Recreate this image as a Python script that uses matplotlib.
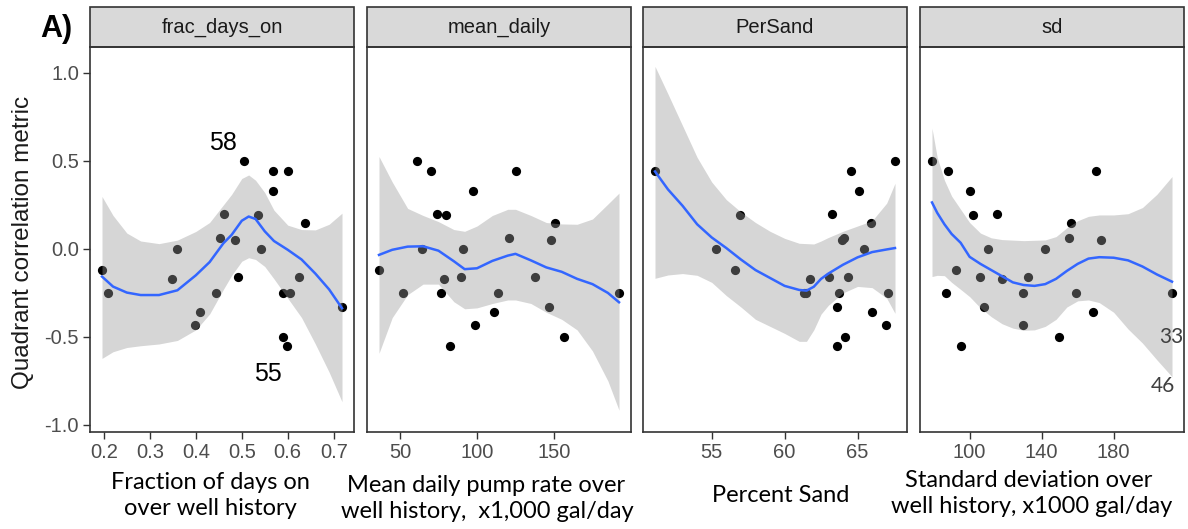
import numpy as np
import matplotlib
matplotlib.use("Agg")
import matplotlib.pyplot as plt
from matplotlib.patches import Rectangle

# Quadrant correlation metric for each well against four well descriptors
frac_days_on = [0.196, 0.208, 0.349, 0.359, 0.398, 0.409, 0.445, 0.453, 0.461, 0.486, 0.491, 0.504,
                0.535, 0.542, 0.567, 0.567, 0.590, 0.590, 0.598, 0.601, 0.605, 0.624, 0.638, 0.718]
frac_days_qc = [-0.12, -0.25, -0.17, 0.00, -0.43, -0.36, -0.25, 0.06, 0.20, 0.05, -0.16, 0.50,
                0.19, 0.00, 0.44, 0.33, -0.25, -0.50, -0.55, 0.44, -0.25, -0.16, 0.15, -0.33]

mean_daily = [36.4, 52.2, 60.8, 64.5, 70.1, 74.2, 76.6, 78.8, 80.1, 82.3, 89.8, 90.9,
              97.6, 98.9, 111.3, 113.4, 120.8, 125.5, 137.9, 146.5, 147.8, 150.9, 156.5, 192.2]
mean_daily_qc = [-0.12, -0.25, 0.50, 0.00, 0.44, 0.20, -0.25, -0.17, 0.19, -0.55, -0.16, 0.00,
                 0.33, -0.43, -0.36, -0.25, 0.06, 0.44, -0.16, -0.33, 0.05, 0.15, -0.50, -0.25]

per_sand = [51.11, 55.30, 56.57, 56.95, 61.30, 61.45, 61.75, 63.07, 63.25, 63.59, 63.59, 63.73,
            63.95, 64.05, 64.16, 64.32, 64.52, 65.11, 65.43, 65.93, 66.02, 66.98, 67.09, 67.57]
per_sand_qc = [0.44, 0.00, -0.12, 0.19, -0.25, -0.25, -0.17, -0.16, 0.20, -0.33, -0.55, -0.25,
               0.05, 0.06, -0.50, -0.16, 0.44, 0.33, 0.00, 0.15, -0.36, -0.43, -0.25, 0.50]

sd_pump = [79.1, 86.7, 87.8, 92.6, 95.2, 100.0, 102.0, 105.6, 107.8, 110.4, 115.2, 118.1,
           129.6, 129.6, 132.2, 141.9, 149.4, 155.2, 156.1, 159.1, 168.3, 170.4, 173.1, 212.4]
sd_pump_qc = [0.50, -0.25, 0.44, -0.12, -0.55, 0.33, 0.19, -0.16, -0.33, 0.00, 0.20, -0.17,
              -0.43, -0.25, -0.16, 0.00, -0.50, 0.06, 0.15, -0.25, -0.36, 0.44, 0.05, -0.25]

# loess smooth (fit and 95% band) for each facet
frac_days_grid = [0.196, 0.22, 0.25, 0.28, 0.32, 0.36, 0.40, 0.43, 0.46, 0.478,
                  0.50, 0.515, 0.53, 0.55, 0.57, 0.60, 0.63, 0.66, 0.69, 0.718]
frac_days_fit = [-0.157, -0.214, -0.248, -0.262, -0.262, -0.235, -0.150, -0.075, 0.032, 0.080,
                 0.160, 0.184, 0.170, 0.100, 0.045, -0.005, -0.060, -0.140, -0.230, -0.337]
frac_days_lo = [-0.622, -0.584, -0.560, -0.550, -0.540, -0.520, -0.460, -0.370, -0.230, -0.150,
                -0.070, -0.050, -0.060, -0.100, -0.170, -0.280, -0.390, -0.540, -0.700, -0.868]
frac_days_hi = [0.298, 0.190, 0.090, 0.045, 0.030, 0.050, 0.099, 0.150, 0.250, 0.310,
                0.400, 0.420, 0.390, 0.320, 0.220, 0.135, 0.110, 0.108, 0.140, 0.203]

mean_daily_grid = [36.4, 45, 55, 65, 75, 85, 92, 100, 110, 120, 125, 135, 145, 155, 165, 175,
                   185, 192.2]
mean_daily_fit = [-0.034, -0.005, 0.013, 0.015, -0.010, -0.070, -0.115, -0.110, -0.068, -0.038,
                  -0.028, -0.065, -0.105, -0.130, -0.170, -0.200, -0.250, -0.303]
mean_daily_lo = [-0.593, -0.390, -0.260, -0.200, -0.200, -0.300, -0.340, -0.335, -0.310, -0.290,
                 -0.290, -0.310, -0.360, -0.400, -0.460, -0.580, -0.750, -0.916]
mean_daily_hi = [0.525, 0.380, 0.230, 0.190, 0.155, 0.110, 0.100, 0.130, 0.190, 0.225,
                 0.225, 0.190, 0.150, 0.142, 0.140, 0.170, 0.255, 0.317]

per_sand_grid = [51.11, 52, 53, 54, 55, 56, 57, 58, 59, 60, 61, 61.5, 62, 62.5, 63, 64, 65, 66,
                 67, 67.57]
per_sand_fit = [0.440, 0.338, 0.245, 0.140, 0.065, 0.005, -0.060, -0.120, -0.165, -0.210,
                -0.233, -0.237, -0.215, -0.170, -0.140, -0.090, -0.048, -0.018, -0.003, 0.005]
per_sand_lo = [-0.167, -0.148, -0.140, -0.150, -0.190, -0.265, -0.330, -0.400, -0.440, -0.480,
               -0.525, -0.525, -0.460, -0.370, -0.320, -0.250, -0.213, -0.220, -0.280, -0.366]
per_sand_hi = [1.037, 0.880, 0.700, 0.520, 0.380, 0.280, 0.210, 0.150, 0.100, 0.060,
               0.032, 0.030, 0.028, 0.045, 0.065, 0.100, 0.130, 0.160, 0.260, 0.373]

sd_pump_grid = [79.1, 82, 86, 90, 95, 100, 106, 112, 118, 124, 130, 136, 142, 148, 154, 160,
                166, 172, 180, 188, 196, 204, 212.4]
sd_pump_fit = [0.264, 0.205, 0.140, 0.085, 0.035, -0.045, -0.085, -0.120, -0.155, -0.190, -0.205,
               -0.210, -0.200, -0.170, -0.125, -0.085, -0.055, -0.047, -0.050, -0.065, -0.100,
               -0.145, -0.186]
sd_pump_lo = [-0.157, -0.150, -0.152, -0.190, -0.230, -0.271, -0.335, -0.385, -0.425, -0.450,
              -0.462, -0.460, -0.440, -0.400, -0.330, -0.295, -0.290, -0.305, -0.360, -0.455,
              -0.535, -0.630, -0.726]
sd_pump_hi = [0.686, 0.520, 0.390, 0.300, 0.225, 0.150, 0.090, 0.063, 0.053, 0.050, 0.047,
              0.049, 0.051, 0.070, 0.120, 0.160, 0.185, 0.193, 0.193, 0.200, 0.235, 0.310, 0.411]

strip_names = ["frac_days_on", "mean_daily", "PerSand", "sd"]
x_ticks = [[0.2, 0.3, 0.4, 0.5, 0.6, 0.7], [50, 100, 150], [55, 60, 65], [100, 140, 180]]
x_tick_labels = [["0.2", "0.3", "0.4", "0.5", "0.6", "0.7"], ["50", "100", "150"],
                 ["55", "60", "65"], ["100", "140", "180"]]
x_titles = [["Fraction of days on", "over well history"],
            ["Mean daily pump rate over", "well history,  x1,000 gal/day"],
            ["Percent Sand"],
            ["Standard deviation over", "well history, x1000 gal/day"]]
y_ticks = [-1.0, -0.5, 0.0, 0.5, 1.0]

W, H = 1188, 529
fig = plt.figure(figsize=(W / 100, H / 100), dpi=100)

panels = [(frac_days_on, frac_days_qc, frac_days_grid, frac_days_fit, frac_days_lo, frac_days_hi),
          (mean_daily, mean_daily_qc, mean_daily_grid, mean_daily_fit, mean_daily_lo, mean_daily_hi),
          (per_sand, per_sand_qc, per_sand_grid, per_sand_fit, per_sand_lo, per_sand_hi),
          (sd_pump, sd_pump_qc, sd_pump_grid, sd_pump_fit, sd_pump_lo, sd_pump_hi)]
lefts = [90, 367, 643, 920]
pw, top, ph, strip_h = 264, 47, 385, 40
edge = "#333333"

axes = []
for i, (xv, yv, gx, fit, lo, hi) in enumerate(panels):
    ax = fig.add_axes([lefts[i] / W, 1 - (top + ph) / H, pw / W, ph / H])
    axes.append(ax)
    ax.scatter(xv, yv, s=44, color="black", linewidths=0, zorder=2)
    ax.fill_between(gx, lo, hi, color="#999999", alpha=0.4, linewidth=0, zorder=3)
    ax.plot(gx, fit, color="#3366FF", linewidth=1.8, zorder=4)

    span = max(xv) - min(xv)
    ax.set_xlim(min(xv) - 0.05 * span, max(xv) + 0.05 * span)
    ax.set_ylim(-1.04, 1.147)
    ax.set_xticks(x_ticks[i])
    ax.set_xticklabels(x_tick_labels[i], fontsize=14.5, color="#4D4D4D",
                       family="Liberation Sans")
    if i == 0:
        ax.set_yticks(y_ticks)
        ax.set_yticklabels(["-1.0", "-0.5", "0.0", "0.5", "1.0"], fontsize=14.5,
                           color="#4D4D4D", family="Liberation Sans")
    else:
        ax.set_yticks([])
    ax.tick_params(length=5, width=1, color=edge, pad=3)
    for sp in ax.spines.values():
        sp.set_color(edge)
        sp.set_linewidth(1.2)
        sp.set_zorder(6)

    # facet strip
    ax.add_patch(Rectangle((0, 1), 1, strip_h / ph, transform=ax.transAxes, clip_on=False,
                           facecolor="#D9D9D9", edgecolor=edge, linewidth=1.2))
    ax.text(0.5, 1 + strip_h / ph / 2, strip_names[i], transform=ax.transAxes,
            ha="center", va="center", fontsize=14.5, color="#1A1A1A", family="Liberation Sans")

# axis descriptions under each facet (baseline positions in pixels)
title_pos = [[(210, 489), (210, 515)], [(486, 492), (487, 518)], [(781, 502)],
             [(1029, 487), (1032, 513)]]
for lines, pos in zip(x_titles, title_pos):
    for text, (cx, cy) in zip(lines, pos):
        fig.text(cx / W, 1 - cy / H, text, ha="center", va="baseline", fontsize=17,
                 color="black", family="Lato")

fig.text(23 / W, 1 - 242 / H, "Quadrant correlation metric", rotation=90, ha="center",
         va="center", fontsize=17.5, color="#1A1A1A", family="Liberation Sans")
fig.text(40 / W, 1 - 29 / H, "A)", ha="left", va="center", fontsize=22, fontweight="bold",
         color="black", family="Liberation Sans")

# well labels
axes[0].text(0.459, 0.60, "58", ha="center", va="center", fontsize=18, family="Liberation Sans")
axes[0].text(0.556, -0.71, "55", ha="center", va="center", fontsize=18, family="Liberation Sans")
axes[3].text(212.2, -0.50, "33", ha="center", va="center", fontsize=15, color="#404040",
             family="Lato", zorder=7)
axes[3].text(207.2, -0.78, "46", ha="center", va="center", fontsize=15, color="#404040",
             family="Lato", zorder=7)

fig.savefig("out.png", dpi=100)
